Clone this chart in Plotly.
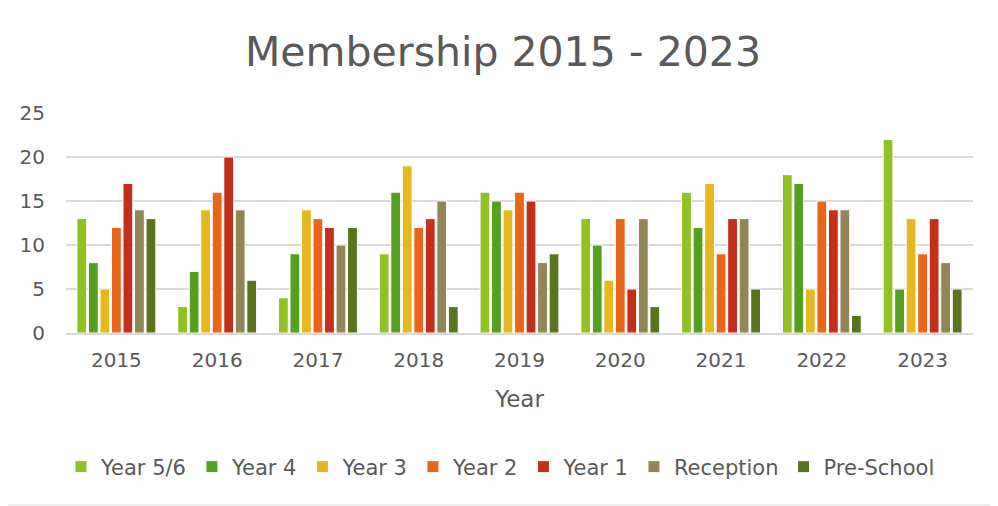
import plotly.graph_objects as go

years = ["2015", "2016", "2017", "2018", "2019", "2020", "2021", "2022", "2023"]
series_names = ["Year 5/6", "Year 4", "Year 3", "Year 2", "Year 1", "Reception", "Pre-School"]
year56 = [13, 3, 4, 9, 16, 13, 16, 18, 22]
year4 = [8, 7, 9, 16, 15, 10, 12, 17, 5]
year3 = [5, 14, 14, 19, 14, 6, 17, 5, 13]
year2 = [12, 16, 13, 12, 16, 13, 9, 15, 9]
year1 = [17, 20, 12, 13, 15, 5, 13, 14, 13]
reception = [14, 14, 10, 15, 8, 13, 13, 14, 8]
preschool = [13, 6, 12, 3, 9, 3, 5, 2, 5]
colors = ["#92C123", "#55A021", "#E6B71E", "#E8651A", "#C42F1A", "#918655", "#59741C"]
y_ticks = [0, 5, 10, 15, 20, 25]

font_family = "DejaVu Sans, sans-serif"
W, H = 990, 498
ML, MR, MT, MB = 58, 25, 105, 173
PH = H - MT - MB
PW = W - ML - MR

fig = go.Figure()
for name, vals, c in zip(series_names, [year56, year4, year3, year2, year1, reception, preschool], colors):
    fig.add_trace(go.Bar(x=years, y=vals, name=name, marker=dict(color=c, line=dict(color="white", width=1))))

fig.update_layout(
    width=W, height=H,
    paper_bgcolor="white", plot_bgcolor="white",
    barmode="group", bargap=0.2, bargroupgap=0.15,
    font=dict(family=font_family, color="#595959", size=20),
    title=dict(text="Membership 2015 - 2023", x=0.5, xanchor="center", y=1 - 44 / H, yanchor="middle",
               font=dict(size=41, color="#595959", family=font_family)),
    margin=dict(l=ML, r=MR, t=MT, b=MB),
    xaxis=dict(title=dict(text="Year", font=dict(size=23), standoff=20), showline=True, linecolor="#D9D9D9",
               linewidth=1.5, ticks="", tickfont=dict(size=20), ticklabelstandoff=8),
    yaxis=dict(range=[0, 25], tickvals=y_ticks, showgrid=True, gridcolor="#D9D9D9", gridwidth=1.5,
               zeroline=False, ticks="", tickfont=dict(size=20), ticklabelstandoff=20),
    legend=dict(orientation="h", x=0.5 - 19 / PW, xanchor="center", y=(MT + PH - 459) / PH, yanchor="middle",
                font=dict(size=21), itemwidth=30, tracegroupgap=0),
    showlegend=True,
)
# outer chart border (right and bottom edges visible in the window)
fig.add_shape(type="line", xref="paper", yref="paper", x0=1 + (MR - 1) / PW, x1=1 + (MR - 1) / PW,
              y0=-(MB - 1) / PH, y1=1 + MT / PH, line=dict(color="#D9D9D9", width=1))
fig.add_shape(type="line", xref="paper", yref="paper", x0=-ML / PW, x1=1 + MR / PW,
              y0=-(MB - 1) / PH, y1=-(MB - 1) / PH, line=dict(color="#D9D9D9", width=1))
fig.write_html("out.html")
